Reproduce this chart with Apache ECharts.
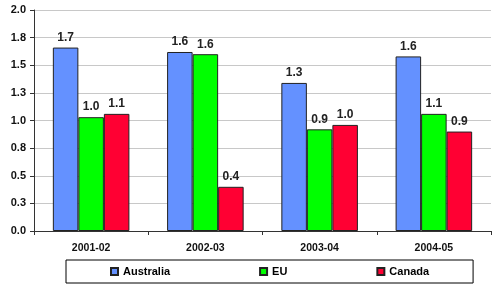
<!DOCTYPE html>
<html><head><meta charset="utf-8">
<script src="https://cdn.jsdelivr.net/npm/echarts@6/dist/echarts.min.js"></script>
<style>html,body{margin:0;padding:0;background:#fff}#c{width:492px;height:285px}</style>
</head><body><div id="c"></div>
<script>
var categories = ['2001-02', '2002-03', '2003-04', '2004-05'];
var australia = [1.66, 1.62, 1.34, 1.58];
var eu = [1.03, 1.60, 0.92, 1.06];
var canada = [1.06, 0.40, 0.96, 0.90];
var seriesNames = ['Australia', 'EU', 'Canada'];
var colors = ['#6491FF', '#00FF00', '#FF0033'];
var yMin = 0, yMax = 2, yStep = 0.25;

var font = '"Liberation Sans", Arial, sans-serif';
function mk(name, data, color) {
  return {
    name: name, type: 'bar', data: data, barGap: '0%', barCategoryGap: '33%',
    itemStyle: {color: color, borderColor: '#222', borderWidth: 1},
    label: {show: true, position: 'top', distance: 4, fontFamily: font, fontWeight: 'bold', fontSize: 12, color: '#222',
      formatter: function (p) { return p.value.toFixed(1); }}
  };
}
var chart = echarts.init(document.getElementById('c'));
chart.setOption({
  animation: false,
  grid: {left: 34, right: 1, top: 10, bottom: 54},
  legend: {
    data: seriesNames, bottom: 2, left: 66,
    itemWidth: 7, itemHeight: 7, icon: 'rect', itemGap: 89,
    borderColor: '#000', borderWidth: 1, padding: [6, 44, 6, 44],
    textStyle: {fontFamily: font, fontWeight: 'bold', fontSize: 11, color: '#000'}
  },
  xAxis: {
    type: 'category', data: categories,
    axisLine: {lineStyle: {color: '#333', width: 1}},
    axisTick: {show: true, alignWithLabel: false, length: 4, lineStyle: {color: '#333'}},
    axisLabel: {fontFamily: font, fontWeight: 'bold', fontSize: 10.5, color: '#111', margin: 12}
  },
  yAxis: {
    type: 'value', min: yMin, max: yMax, interval: yStep,
    axisLine: {show: true, lineStyle: {color: '#333'}},
    axisTick: {show: true, length: 4, lineStyle: {color: '#333'}},
    splitLine: {lineStyle: {color: '#c8c8c8'}},
    axisLabel: {fontFamily: font, fontWeight: 'bold', fontSize: 11, color: '#111', margin: 8,
      formatter: function (v) { return v.toFixed(1); }}
  },
  series: [mk(seriesNames[0], australia, colors[0]), mk(seriesNames[1], eu, colors[1]), mk(seriesNames[2], canada, colors[2])]
});
</script></body></html>
